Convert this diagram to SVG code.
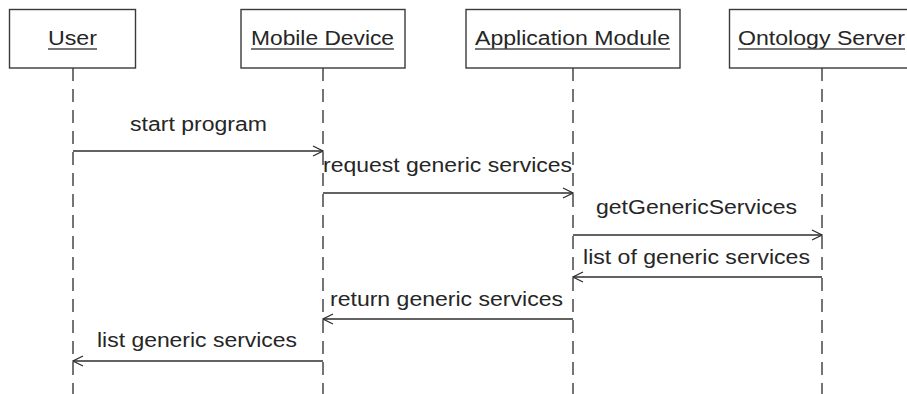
<svg xmlns="http://www.w3.org/2000/svg" width="907" height="394" viewBox="0 0 907 394">
  <style>
    .box { fill: #ffffff; stroke: #3a3a3a; stroke-width: 1.4; }
    .lifeline { stroke: #3a3a3a; stroke-width: 1.4; stroke-dasharray: 13 8; fill: none; }
    .msg { stroke: #2e2e2e; stroke-width: 1.3; fill: none; }
    .uline { stroke: #4a4a4a; stroke-width: 1.5; }
    text { font-family: "Liberation Sans", Arial, sans-serif; font-size: 20px; fill: #262626; }
  </style>
  <defs>
    <marker id="open" viewBox="0 0 12 12" refX="11" refY="6" markerWidth="12" markerHeight="12" markerUnits="userSpaceOnUse" orient="auto">
      <path d="M1,1 L11,6 L1,11" fill="none" stroke="#2e2e2e" stroke-width="1.3"/>
    </marker>
  </defs>
  <rect width="907" height="394" fill="#ffffff"/>

  <!-- lifelines -->
  <g id="lifelines">
    <line class="lifeline" x1="73" y1="68" x2="73" y2="394"/>
    <line class="lifeline" x1="323" y1="68" x2="323" y2="394"/>
    <line class="lifeline" x1="573" y1="68" x2="573" y2="394"/>
    <line class="lifeline" x1="822" y1="68" x2="822" y2="394"/>
  </g>

  <!-- participants -->
  <g id="user">
    <rect class="box" x="9.5" y="9.5" width="126" height="58.5"/>
    <text x="48" y="45" textLength="49" lengthAdjust="spacingAndGlyphs">User</text>
    <line class="uline" x1="48" y1="49" x2="97" y2="49"/>
  </g>
  <g id="mobile-device">
    <rect class="box" x="241" y="9.5" width="164" height="58.5"/>
    <text x="251" y="45" textLength="143" lengthAdjust="spacingAndGlyphs">Mobile Device</text>
    <line class="uline" x1="251" y1="49" x2="394" y2="49"/>
  </g>
  <g id="application-module">
    <rect class="box" x="466" y="9.5" width="214" height="58.5"/>
    <text x="475" y="45" textLength="195" lengthAdjust="spacingAndGlyphs">Application Module</text>
    <line class="uline" x1="475" y1="49" x2="670" y2="49"/>
  </g>
  <g id="ontology-server">
    <rect class="box" x="729.5" y="9.5" width="190" height="58.5"/>
    <text x="738" y="45" textLength="167" lengthAdjust="spacingAndGlyphs">Ontology Server</text>
    <line class="uline" x1="738" y1="49" x2="905" y2="49"/>
  </g>

  <!-- messages -->
  <g id="connectors">
    <line class="msg" x1="73" y1="151" x2="323" y2="151" marker-end="url(#open)"/>
    <line class="msg" x1="323" y1="193" x2="573" y2="193" marker-end="url(#open)"/>
    <line class="msg" x1="573" y1="235" x2="822" y2="235" marker-end="url(#open)"/>
    <line class="msg" x1="822" y1="277" x2="573" y2="277" marker-end="url(#open)"/>
    <line class="msg" x1="573" y1="319" x2="323" y2="319" marker-end="url(#open)"/>
    <line class="msg" x1="323" y1="361" x2="73" y2="361" marker-end="url(#open)"/>
  </g>

  <!-- message labels -->
  <g id="labels">
    <text x="130" y="131" textLength="137" lengthAdjust="spacingAndGlyphs">start program</text>
    <text x="323" y="172" textLength="249" lengthAdjust="spacingAndGlyphs">request generic services</text>
    <text x="596" y="214" textLength="201" lengthAdjust="spacingAndGlyphs">getGenericServices</text>
    <text x="583" y="264" textLength="227" lengthAdjust="spacingAndGlyphs">list of generic services</text>
    <text x="330" y="306" textLength="233" lengthAdjust="spacingAndGlyphs">return generic services</text>
    <text x="97" y="347" textLength="200" lengthAdjust="spacingAndGlyphs">list generic services</text>
  </g>
</svg>
